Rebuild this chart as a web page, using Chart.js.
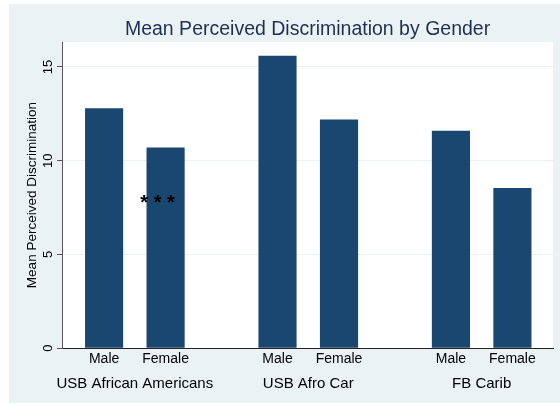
<!DOCTYPE html>
<html>
<head>
<meta charset="utf-8">
<script src="https://cdn.jsdelivr.net/npm/chart.js@4"></script>
<style>
html,body{margin:0;padding:0;background:#fff;}
#moldura{position:absolute;left:9px;top:4px;width:551px;height:399px;background:#eaf2f3;}
canvas{display:block;}
</style>
</head>
<body>
<div id="moldura"><canvas id="graf1" width="551" height="399"></canvas></div>
<script>
const GRUPOS = ['USB African Americans', 'USB Afro Car', 'FB Carib'];
const GENEROS = ['Male', 'Female'];
const MEDIAS = [12.8, 10.7, 15.6, 12.2, 11.6, 8.55];
const Y_TICKS = [0, 5, 10, 15];
const ASTERISCOS = {texto: '* * *', x: 0.87, y: 8};

const COR = {barra: '#1a476f', fundo: '#eaf2f3', titulo: '#1e2f55', eixo: '#555'};
const FONTE = '"Liberation Sans", Arial, sans-serif';

// distancia entre grupos, em unidades do eixo x (1 = distancia entre barras)
const PASSO = 2.82;
const X_MIN = -0.683, X_MAX = 7.3, Y_MAX = 16.33;

let posicoes = [];
let centros = [];
GRUPOS.forEach((g, i) => {
    GENEROS.forEach((s, j) => posicoes.push(i * PASSO + j));
    centros.push(i * PASSO + 0.5);
});
let pontos = MEDIAS.map((v, i) => ({x: posicoes[i], y: v}));

const fundoPlot = {
    id: 'fundoPlot',
    beforeDraw(chart){
        let a = chart.chartArea, ctx = chart.ctx;
        ctx.save();
        ctx.fillStyle = '#fff';
        ctx.fillRect(a.left, a.top, a.right - a.left, a.bottom - a.top);
        ctx.restore();
    }
};

const textos = {
    id: 'textos',
    afterDraw(chart){
        let a = chart.chartArea, ctx = chart.ctx;
        ctx.save();
        ctx.fillStyle = COR.titulo;
        ctx.font = '19.5px ' + FONTE;
        ctx.textAlign = 'center';
        ctx.textBaseline = 'middle';
        ctx.fillText('Mean Perceived Discrimination by Gender', (a.left + a.right) / 2, 26);
        ctx.fillStyle = '#000';
        ctx.font = 'bold 20px ' + FONTE;
        ctx.fillText(ASTERISCOS.texto, chart.scales.x.getPixelForValue(ASTERISCOS.x), chart.scales.y.getPixelForValue(ASTERISCOS.y) + 5);
        ctx.restore();
    }
};

function grafico(){
    let ctx = document.getElementById('graf1');
    let config = {
        type: 'bar',
        data: {
            datasets: [{
                data: pontos,
                backgroundColor: COR.barra,
                borderWidth: 0,
                barPercentage: 0.62,
                categoryPercentage: 1
            }]
        },
        options: {
            responsive: false,
            animation: false,
            layout: {padding: {top: 38, right: 7, bottom: 6, left: 17}},
            plugins: {legend: {display: false}, tooltip: {enabled: false}},
            scales: {
                x: {
                    type: 'linear', position: 'bottom', weight: 0, offset: false,
                    min: X_MIN, max: X_MAX,
                    afterBuildTicks: s => { s.ticks = posicoes.map(v => ({value: v})); },
                    ticks: {
                        autoSkip: false, maxRotation: 0, padding: 3,
                        color: '#000', font: {family: FONTE, size: 14},
                        callback: (v, i) => GENEROS[i % 2]
                    },
                    grid: {display: false, drawTicks: false, offset: false},
                    border: {display: true, color: '#222', width: 1}
                },
                xg: {
                    type: 'linear', position: 'bottom', weight: 1, offset: false,
                    min: X_MIN, max: X_MAX,
                    afterBuildTicks: s => { s.ticks = centros.map(v => ({value: v})); },
                    ticks: {
                        autoSkip: false, maxRotation: 0, padding: 4,
                        color: '#000', font: {family: FONTE, size: 15},
                        callback: (v, i) => GRUPOS[i]
                    },
                    grid: {display: false, drawTicks: false},
                    border: {display: false}
                },
                y: {
                    min: 0, max: Y_MAX,
                    afterBuildTicks: s => { s.ticks = Y_TICKS.map(v => ({value: v})); },
                    ticks: {
                        minRotation: 90, maxRotation: 90, crossAlign: 'center', padding: 1,
                        color: '#000', font: {family: FONTE, size: 13}
                    },
                    grid: {color: COR.fundo, tickColor: COR.eixo, tickLength: 5, lineWidth: 1},
                    border: {display: true, color: COR.eixo, width: 1},
                    title: {
                        display: true, text: 'Mean Perceived Discrimination',
                        color: '#000', font: {family: FONTE, size: 13.5, lineHeight: 1}, padding: {top: 0, bottom: 0}
                    }
                }
            }
        },
        plugins: [fundoPlot, textos]
    };
    return new Chart(ctx, config);
}
grafico();
</script>
</body>
</html>
